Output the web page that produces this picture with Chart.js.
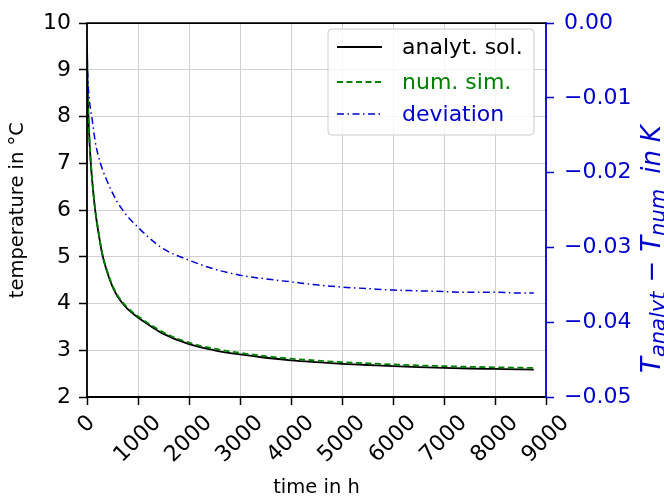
<!DOCTYPE html>
<html>
<head>
<meta charset="utf-8">
<script src="https://cdn.jsdelivr.net/npm/chart.js@4.4.0/dist/chart.umd.min.js"></script>
<style>
  html, body { margin: 0; padding: 0; background: #ffffff; }
  canvas { display: block; }
</style>
</head>
<body>
<canvas id="c" width="664" height="500"></canvas>
<script>
// ---- data ----
const times = [0, 10, 25, 50, 75, 100, 160, 220, 300, 400, 500, 600, 700, 800, 1000, 1200, 1500,
  2000, 2500, 3000, 3500, 4000, 4500, 5000, 5500, 6000, 6500, 7000, 7500, 8000, 8500, 8760];
const analytical = [9.60, 8.75, 8.10, 7.45, 7.00, 6.65, 6.00, 5.55, 5.05, 4.66, 4.36, 4.15,
  4.00, 3.88, 3.70, 3.55, 3.35, 3.13, 3.00, 2.91, 2.84, 2.785, 2.745, 2.71, 2.685, 2.66,
  2.64, 2.625, 2.61, 2.60, 2.59, 2.585];
const numerical = [9.604, 8.757, 8.109, 7.461, 7.013, 6.663, 6.016, 5.568, 5.070, 4.681,
  4.383, 4.174, 4.025, 3.906, 3.727, 3.579, 3.380, 3.162, 3.033, 2.944, 2.874, 2.820, 2.780,
  2.745, 2.721, 2.696, 2.676, 2.661, 2.646, 2.636, 2.626, 2.621];
const deviation = [-0.0043, -0.0065, -0.0085, -0.0105, -0.0118, -0.0128, -0.0158, -0.0177,
  -0.0195, -0.0212, -0.0227, -0.0240, -0.0250, -0.0259, -0.0273, -0.0286, -0.0302, -0.0317,
  -0.0329, -0.0337, -0.0342, -0.0346, -0.0350, -0.0353, -0.0355, -0.0357, -0.0358, -0.0359,
  -0.0360, -0.0360, -0.0361, -0.0361];
const xTicks = [0, 1000, 2000, 3000, 4000, 5000, 6000, 7000, 8000, 9000];
const leftTicks = [2, 3, 4, 5, 6, 7, 8, 9, 10];
const rightTicks = [-0.05, -0.04, -0.03, -0.02, -0.01, 0.00];
const seriesLabels = ['analyt. sol.', 'num. sim.', 'deviation'];

// ---- styles ----
const BLUE = '#0000cd';
const GREEN = '#008000';
const GRID = '#d0d0d0';
const FONT = '"DejaVu Sans", "Liberation Sans", sans-serif';
const TICK_SIZE = 22;
const tickFont = { family: FONT, size: TICK_SIZE };
const titleFont = { family: FONT, size: 19.5 };

const pts = (ys) => times.map((t, i) => ({ x: t, y: ys[i] }));

const spines = {
  id: 'spines',
  afterDatasetsDraw(chart) {
    const { ctx, chartArea: a } = chart;
    ctx.save();
    ctx.lineWidth = 1.8;
    ctx.lineCap = 'square';
    ctx.strokeStyle = '#000';
    ctx.beginPath();
    ctx.moveTo(a.left, a.bottom); ctx.lineTo(a.left, a.top); ctx.lineTo(a.right, a.top);
    ctx.moveTo(a.left, a.bottom); ctx.lineTo(a.right, a.bottom);
    ctx.stroke();
    ctx.strokeStyle = BLUE;
    ctx.beginPath();
    ctx.moveTo(a.right, a.top); ctx.lineTo(a.right, a.bottom);
    ctx.stroke();
    ctx.restore();
  }
};

// x tick labels rotated 45 deg, centred under each tick (matplotlib style)
const xLabels = {
  id: 'xLabels',
  afterDraw(chart) {
    const ctx = chart.ctx;
    const sx = chart.scales.x;
    const top = 413;
    ctx.save();
    ctx.font = TICK_SIZE + 'px ' + FONT;
    ctx.fillStyle = '#000';
    ctx.textAlign = 'center';
    ctx.textBaseline = 'middle';
    xTicks.forEach((v) => {
      const label = String(v);
      const w = ctx.measureText(label).width;
      const h = TICK_SIZE * 0.74;
      const ext = (w + h) * Math.SQRT1_2;
      const cx = sx.getPixelForValue(v) - 1;
      const cy = top + ext / 2;
      ctx.save();
      ctx.translate(cx, cy);
      ctx.rotate(-Math.PI / 4);
      ctx.fillText(label, 0, 1);
      ctx.restore();
    });
    ctx.restore();
  }
};

const boxLegend = {
  id: 'boxLegend',
  afterDraw(chart) {
    const ctx = chart.ctx;
    const x0 = 328, y0 = 29, w = 206, h = 106, r = 4;
    ctx.save();
    ctx.beginPath();
    ctx.moveTo(x0 + r, y0);
    ctx.arcTo(x0 + w, y0, x0 + w, y0 + h, r);
    ctx.arcTo(x0 + w, y0 + h, x0, y0 + h, r);
    ctx.arcTo(x0, y0 + h, x0, y0, r);
    ctx.arcTo(x0, y0, x0 + w, y0, r);
    ctx.closePath();
    ctx.fillStyle = 'rgba(255,255,255,0.8)';
    ctx.fill();
    ctx.strokeStyle = '#cccccc';
    ctx.lineWidth = 1;
    ctx.stroke();
    const rows = [47, 82, 114];
    chart.data.datasets.forEach((ds, i) => {
      const y = rows[i];
      ctx.beginPath();
      ctx.setLineDash(ds.borderDash || []);
      ctx.strokeStyle = ds.borderColor;
      ctx.lineWidth = ds.borderWidth;
      ctx.moveTo(337, y); ctx.lineTo(382, y);
      ctx.stroke();
      ctx.setLineDash([]);
      ctx.fillStyle = ds.borderColor;
      ctx.font = '22px ' + FONT;
      ctx.textBaseline = 'middle';
      ctx.textAlign = 'left';
      ctx.fillText(ds.label, 402, y + 1);
    });
    ctx.restore();
  }
};

const rightTitle = {
  id: 'rightTitle',
  afterDraw(chart) {
    const ctx = chart.ctx;
    const main = 'italic 26px ' + FONT;
    const up = '26px ' + FONT;
    const sub = 'italic 21px ' + FONT;
    const segs = [
      ['T', main, 0, 0], ['analyt', sub, 5, 0], ['\u2212', up, 0, 9], ['T', main, 0, 9],
      ['num', sub, 5, 0], ['in', main, 0, 15], ['K', main, 0, 8]
    ];
    ctx.save();
    ctx.translate(660, 373);
    ctx.rotate(-Math.PI / 2);
    ctx.fillStyle = BLUE;
    ctx.textBaseline = 'alphabetic';
    ctx.textAlign = 'left';
    let x = 0;
    segs.forEach(([t, f, dy, gap]) => {
      x += gap;
      ctx.font = f;
      ctx.fillText(t, x, dy);
      x += ctx.measureText(t).width;
    });
    ctx.restore();
  }
};

new Chart(document.getElementById('c'), {
  type: 'line',
  data: {
    datasets: [
      { label: seriesLabels[0], data: pts(analytical), borderColor: '#000000', borderWidth: 1.8,
        yAxisID: 'y', order: 3, cubicInterpolationMode: 'monotone' },
      { label: seriesLabels[1], data: pts(numerical), borderColor: GREEN, borderWidth: 1.8,
        borderDash: [6, 3.5], yAxisID: 'y', order: 2, cubicInterpolationMode: 'monotone' },
      { label: seriesLabels[2], data: pts(deviation), borderColor: BLUE, borderWidth: 1.5,
        borderDash: [7, 3.5, 1.5, 3.5], yAxisID: 'y2', order: 1, cubicInterpolationMode: 'monotone' }
    ]
  },
  options: {
    responsive: false,
    animation: false,
    layout: { padding: { top: 17, left: 0, right: 0, bottom: 0 } },
    elements: { point: { radius: 0 } },
    plugins: { legend: { display: false }, tooltip: { enabled: false } },
    scales: {
      x: {
        type: 'linear', min: 0, max: 9000,
        afterBuildTicks: (s) => { s.ticks = xTicks.map(v => ({ value: v })); },
        afterFit: (s) => { s.height = 103; },
        ticks: { display: false, font: tickFont, autoSkip: false, callback: (v) => String(v) },
        grid: { color: GRID, lineWidth: 1, tickColor: '#000', tickLength: 8, tickWidth: 1.5 },
        border: { display: false },
        title: { display: true, text: 'time in h', font: titleFont, color: '#000',
          padding: { top: 0, bottom: 0 } }
      },
      y: {
        type: 'linear', position: 'left', min: 2, max: 10,
        afterBuildTicks: (s) => { s.ticks = leftTicks.map(v => ({ value: v })); },
        afterFit: (s) => { s.width = 87; },
        ticks: { font: tickFont, color: '#000', padding: 8, callback: (v) => String(v) },
        grid: { color: GRID, lineWidth: 1, tickColor: '#000', tickLength: 8, tickWidth: 1.5 },
        border: { display: false },
        title: { display: true, text: 'temperature in \u00B0C', font: titleFont, color: '#000',
          padding: { top: 6, bottom: 0 } }
      },
      y2: {
        type: 'linear', position: 'right', min: -0.05, max: 0,
        afterBuildTicks: (s) => { s.ticks = rightTicks.map(v => ({ value: v })); },
        afterFit: (s) => { s.width = 118; },
        ticks: { font: tickFont, color: BLUE, padding: 10,
          callback: (v) => (v < -1e-9 ? '\u2212' : '') + Math.abs(v).toFixed(2) },
        grid: { drawOnChartArea: false, tickColor: BLUE, tickLength: 8, tickWidth: 1.5 },
        border: { display: false }
      }
    }
  },
  plugins: [spines, xLabels, boxLegend, rightTitle]
});
</script>
</body>
</html>
